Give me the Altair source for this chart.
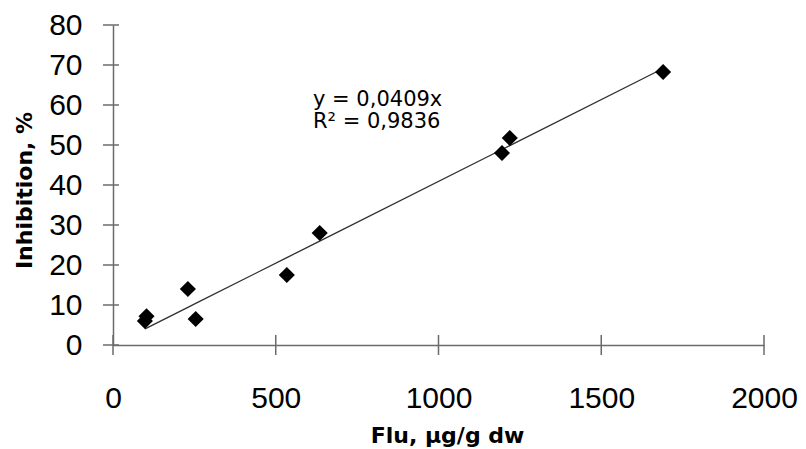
import altair as alt
import pandas as pd

# ---- data ----
flu = [98, 103, 230, 254, 534, 635, 1195, 1219, 1690]
inhibition = [6.0, 7.2, 14.0, 6.5, 17.5, 28.0, 48.0, 51.75, 68.25]
slope = 0.0409
x_ticks = [0, 500, 1000, 1500, 2000]
y_ticks = [0, 10, 20, 30, 40, 50, 60, 70, 80]
equation_lines = ["y = 0,0409x", "R² = 0,9836"]

FONT = "Liberation Sans"
TITLE_FONT = "DejaVu Sans"
AXIS_COLOR = "#6b6b6b"

df = pd.DataFrame({"flu": flu, "inh": inhibition})
xs = alt.Scale(domain=[0, 2000], nice=False, zero=False)
ys = alt.Scale(domain=[0, 80], nice=False, zero=False)

X_AXIS = alt.Axis(
    values=x_ticks, format="d", title="Flu, µg/g dw", ticks=False, tickSize=0, grid=False,
    labelPadding=38, labelFontSize=30, labelFont=FONT, labelColor="#000",
    labelFlush=False, labelOverlap=False,
    titleFont=TITLE_FONT, titleFontSize=22, titleFontWeight="bold", titleColor="#000",
    titleX=334, titleY=97, titleAlign="center", titleBaseline="alphabetic",
    domainColor=AXIS_COLOR, domainWidth=1.5)

Y_AXIS = alt.Axis(
    values=y_ticks, format="d", title="Inhibition, %", ticks=False, tickSize=0, grid=False,
    labelPadding=31, labelFontSize=30, labelFont=FONT, labelColor="#000",
    labelFlush=False, labelOverlap=False, labelBaseline="middle",
    titleFont=TITLE_FONT, titleFontSize=22, titleFontWeight="bold", titleColor="#000",
    titleX=-82, titleY=165, titleAngle=270, titleAlign="center",
    titleBaseline="alphabetic",
    domainColor=AXIS_COLOR, domainWidth=1.5)

base = alt.Chart(df)

trend = base.transform_calculate(fit=f"{slope} * datum.flu").mark_line(
    color="#303030", strokeWidth=1.3
).encode(
    x=alt.X("flu:Q", scale=xs, axis=X_AXIS),
    y=alt.Y("fit:Q", scale=ys, axis=Y_AXIS),
)

points = base.mark_point(
    shape="diamond", filled=True, size=260, color="black", opacity=1
).encode(
    x=alt.X("flu:Q", scale=xs, axis=X_AXIS),
    y=alt.Y("inh:Q", scale=ys, axis=Y_AXIS),
)

ytick_rules = alt.Chart(pd.DataFrame({"v": y_ticks})).mark_rule(
    color=AXIS_COLOR, strokeWidth=1.5
).encode(
    y=alt.Y("v:Q", scale=ys, axis=Y_AXIS),
    x=alt.value(-10),
    x2=alt.value(6),
)

xtick_rules = alt.Chart(pd.DataFrame({"v": x_ticks})).mark_rule(
    color=AXIS_COLOR, strokeWidth=1.5
).encode(
    x=alt.X("v:Q", scale=xs, axis=X_AXIS),
    y=alt.value(310),
    y2=alt.value(330),
)

label = alt.Chart(pd.DataFrame({"t": ["\n".join(equation_lines)]})).mark_text(
    align="left", baseline="alphabetic", font=TITLE_FONT, fontSize=21, color="#000",
    lineBreak="\n", lineHeight=22
).encode(
    x=alt.value(200),
    y=alt.value(81),
    text="t:N",
)

chart = alt.layer(trend, points, ytick_rules, xtick_rules, label).properties(
    width=651,
    height=320,
    autosize=alt.AutoSizeParams(type="none"),
    padding={"left": 105, "top": 17, "right": 34, "bottom": 103},
    background="white",
).configure_view(stroke=None)

chart.save("out.html", embed_options={"renderer": "svg", "actions": False})
